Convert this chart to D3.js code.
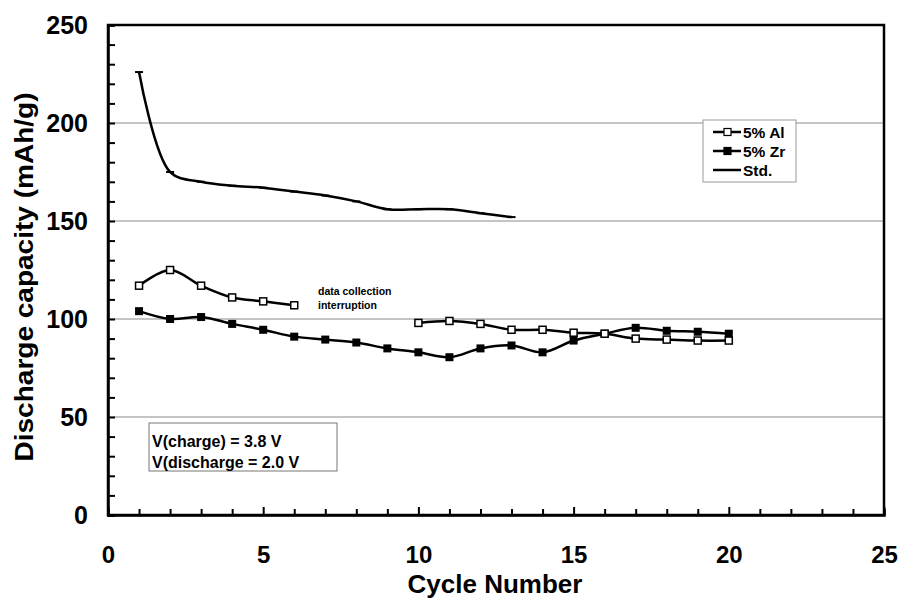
<!DOCTYPE html>
<html>
<head>
<meta charset="utf-8">
<script src="https://cdn.jsdelivr.net/npm/d3@7"></script>
<style>
  body { margin: 0; background: #fff; }
  svg text { font-family: "Liberation Sans", Arial, sans-serif; font-weight: bold; fill: #000; }
  .axis path, .axis line { stroke: #000; }
  .axis path { stroke-width: 2.5; }
  .axis line { stroke-width: 2; }
</style>
</head>
<body>
<div id="chart"></div>
<script>
/***** Data *****/
var cycles = d3.range(1, 21);
var stdCap = [226, 175, 170, 168, 167, 165, 163, 160, 156, 156, 156, 154, 152];
var alCap = [117, 125, 117, 111, 109, 107, null, null, null, 98, 99, 97.5, 94.5, 94.5, 93, 92.5, 90, 89.5, 89, 89];
var zrCap = [104, 100, 101, 97.5, 94.5, 91, 89.5, 88, 85, 83, 80.5, 85, 86.5, 83, 89, 92.5, 95.5, 94, 93.5, 92.5];
var gridValues = [50, 100, 150, 200];
var legendItems = ["5% Al", "5% Zr", "Std."];

var width = 899, height = 598;
var svg = d3.select("#chart").append("svg")
    .attr("width", width)
    .attr("height", height);

var x = d3.scaleLinear().domain([0, 25]).range([108, 884]);
var y = d3.scaleLinear().domain([0, 250]).range([515, 25]);

/***** Gridlines *****/
svg.append("g").selectAll("line")
    .data(gridValues)
    .enter().append("line")
    .attr("x1", x(0)).attr("x2", x(25))
    .attr("y1", d => y(d)).attr("y2", d => y(d))
    .attr("stroke", "#8a8a8a")
    .attr("stroke-width", 1);

/***** Frame *****/
svg.append("rect")
    .attr("x", x(0)).attr("y", y(250))
    .attr("width", x(25) - x(0)).attr("height", y(0) - y(250))
    .attr("fill", "none")
    .attr("stroke", "#000")
    .attr("stroke-width", 2.5);

/***** Axes *****/
var yAxis = d3.axisLeft(y)
    .tickValues(d3.range(0, 251, 10))
    .tickSize(-7)
    .tickPadding(20)
    .tickFormat(d => d % 50 === 0 ? d : "");
svg.append("g")
    .attr("class", "y axis")
    .attr("transform", "translate(" + x(0) + ",0)")
    .call(yAxis)
    .call(g => g.selectAll("text").attr("font-size", 25));

var xAxis = d3.axisBottom(x)
    .tickValues(d3.range(0, 26, 1))
    .tickSize(-6)
    .tickPadding(31)
    .tickFormat(d => d % 5 === 0 ? d : "");
svg.append("g")
    .attr("class", "x axis")
    .attr("transform", "translate(0," + y(0) + ")")
    .call(xAxis)
    .call(g => g.selectAll("text").attr("font-size", 24))
    .call(g => g.selectAll(".tick line").filter(d => d % 5 === 0).attr("y2", -8));

/***** Axis titles *****/
svg.append("text")
    .attr("transform", "translate(33,277) rotate(-90)")
    .attr("text-anchor", "middle")
    .attr("font-size", 26)
    .attr("textLength", 369)
    .attr("lengthAdjust", "spacingAndGlyphs")
    .text("Discharge capacity (mAh/g)");

svg.append("text")
    .attr("x", 495)
    .attr("y", 593)
    .attr("text-anchor", "middle")
    .attr("font-size", 26)
    .text("Cycle Number");

/***** Series *****/
var curve = d3.curveCatmullRom.alpha(0.5);
var line = d3.line()
    .defined(d => d.v != null)
    .x(d => x(d.c))
    .y(d => y(d.v))
    .curve(curve);

function toPoints(values) {
    return values.map((v, i) => ({ c: cycles[i], v: v }));
}

var stdPts = toPoints(stdCap), alPts = toPoints(alCap), zrPts = toPoints(zrCap);

[stdPts, zrPts, alPts].forEach(function(pts) {
    svg.append("path")
        .datum(pts)
        .attr("d", line)
        .attr("fill", "none")
        .attr("stroke", "#000")
        .attr("stroke-width", 2.5);
});

// Std. dash markers
svg.append("g").selectAll("line")
    .data(stdPts)
    .enter().append("line")
    .attr("x1", d => x(d.c) - 4).attr("x2", d => x(d.c) + 4)
    .attr("y1", d => y(d.v)).attr("y2", d => y(d.v))
    .attr("stroke", "#000").attr("stroke-width", 2);

// 5% Zr filled squares
svg.append("g").selectAll("rect")
    .data(zrPts.filter(d => d.v != null))
    .enter().append("rect")
    .attr("x", d => x(d.c) - 4).attr("y", d => y(d.v) - 4)
    .attr("width", 8).attr("height", 8)
    .attr("fill", "#000");

// 5% Al hollow squares
svg.append("g").selectAll("rect")
    .data(alPts.filter(d => d.v != null))
    .enter().append("rect")
    .attr("x", d => x(d.c) - 3.5).attr("y", d => y(d.v) - 3.5)
    .attr("width", 7).attr("height", 7)
    .attr("fill", "#fff")
    .attr("stroke", "#000").attr("stroke-width", 1.5);

/***** Annotation *****/
var note = svg.append("text")
    .attr("x", 318).attr("y", 295)
    .attr("font-size", 10.5)
    .style("font-weight", "600");
note.append("tspan").attr("x", 318).attr("dy", 0).text("data collection");
note.append("tspan").attr("x", 318).attr("dy", 13.5).text("interruption");

/***** Conditions box *****/
svg.append("rect")
    .attr("x", 149).attr("y", 423)
    .attr("width", 188).attr("height", 48)
    .attr("fill", "#fff")
    .attr("stroke", "#777").attr("stroke-width", 1);
svg.append("text").attr("x", 152).attr("y", 447).attr("font-size", 16).text("V(charge) = 3.8 V");
svg.append("text").attr("x", 152).attr("y", 468).attr("font-size", 16).text("V(discharge = 2.0 V");

/***** Legend *****/
var legend = svg.append("g");
legend.append("rect")
    .attr("x", 703).attr("y", 120)
    .attr("width", 93).attr("height", 62)
    .attr("fill", "#fff")
    .attr("stroke", "#999").attr("stroke-width", 1);

var items = legend.selectAll("g.item")
    .data(legendItems)
    .enter().append("g")
    .attr("class", "item")
    .attr("transform", (d, i) => "translate(0," + (132 + i * 19) + ")");

items.append("line")
    .attr("x1", 713).attr("x2", 741)
    .attr("y1", 0).attr("y2", 0)
    .attr("stroke", "#000").attr("stroke-width", 2.5);

items.filter((d, i) => i < 2).append("rect")
    .attr("x", 724).attr("y", -3.5)
    .attr("width", 7).attr("height", 7)
    .attr("fill", (d, i) => i === 0 ? "#fff" : "#000")
    .attr("stroke", "#000").attr("stroke-width", 1.2);

items.append("text")
    .attr("x", 743).attr("y", 5.5)
    .attr("font-size", 15.5)
    .text(d => d);
</script>
</body>
</html>
